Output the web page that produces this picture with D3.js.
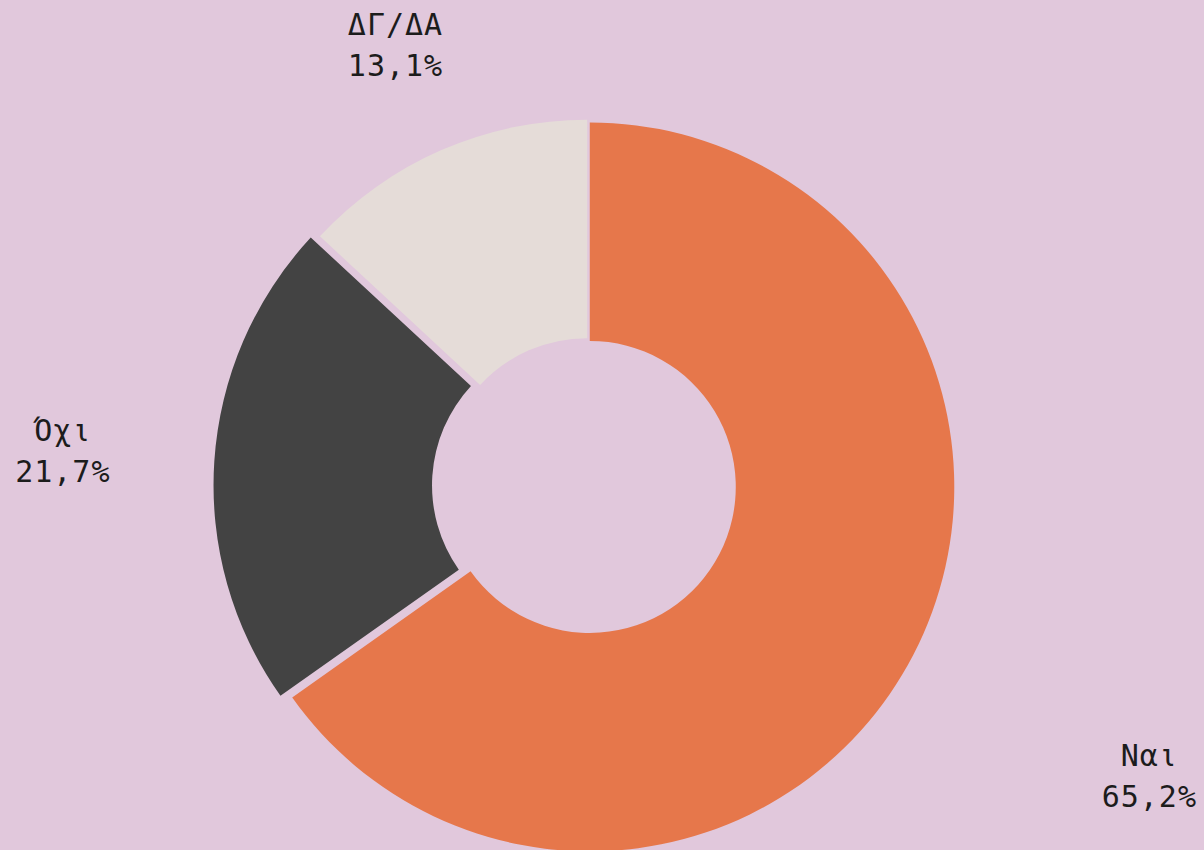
<!DOCTYPE html>
<html>
<head>
<meta charset="utf-8">
<script src="https://cdn.jsdelivr.net/npm/d3@7"></script>
<style>
  html, body { margin: 0; padding: 0; background: #e1c8dc; overflow: hidden; }
</style>
</head>
<body>
<div id="chart"></div>
<script>
// data
const labels = ["Ναι", "Όχι", "ΔΓ/ΔΑ"];
const values = [65.2, 21.7, 13.1];
const colors = ["#e6774b", "#434343", "#e5dcd8"];

var width = 1204, height = 850;
var cx = 588, cy = 486;
var outerR = 364.5, innerR = 146;

// how far each slice is pulled out, and where its label sits (x outer radius)
var pull = [2, 10, 2];
var labelFactor = [1.734, 1.444, 1.32];

var svg = d3.select("#chart")
  .append("svg")
  .attr("width", width)
  .attr("height", height)
  .style("background", "#e1c8dc");

var g = svg.append("g").attr("transform", "translate(" + cx + "," + cy + ")");

var pie = d3.pie().sort(null).value(function (d) { return d; });
var arcs = pie(values);

var arc = d3.arc().innerRadius(innerR).outerRadius(outerR);

function mid(d) { return (d.startAngle + d.endAngle) / 2; }

g.selectAll("path")
  .data(arcs)
  .enter()
  .append("path")
  .attr("d", arc)
  .attr("fill", function (d, i) { return colors[i]; })
  .attr("transform", function (d, i) {
    var a = mid(d);
    return "translate(" + Math.sin(a) * pull[i] + "," + -Math.cos(a) * pull[i] + ")";
  });

// greek style number: comma decimal
var loc = d3.formatLocale({ decimal: ",", thousands: ".", grouping: [3], currency: ["", "€"] });
var fmt = loc.format(".1f");

var lab = g.selectAll(".lab")
  .data(arcs)
  .enter()
  .append("text")
  .attr("class", "lab")
  .attr("text-anchor", "middle")
  .style("font-family", "'DejaVu Sans Mono', monospace")
  .style("font-size", "30px")
  .style("letter-spacing", "1px")
  .attr("fill", "#1c1c1c")
  .attr("transform", function (d, i) {
    var a = mid(d), r = outerR * labelFactor[i];
    return "translate(" + Math.sin(a) * r + "," + -Math.cos(a) * r + ")";
  });

lab.append("tspan").attr("x", 0).attr("y", -10).text(function (d, i) { return labels[i]; });
lab.append("tspan").attr("x", 0).attr("y", 31).text(function (d) { return fmt(d.value) + "%"; });
</script>
</body>
</html>
